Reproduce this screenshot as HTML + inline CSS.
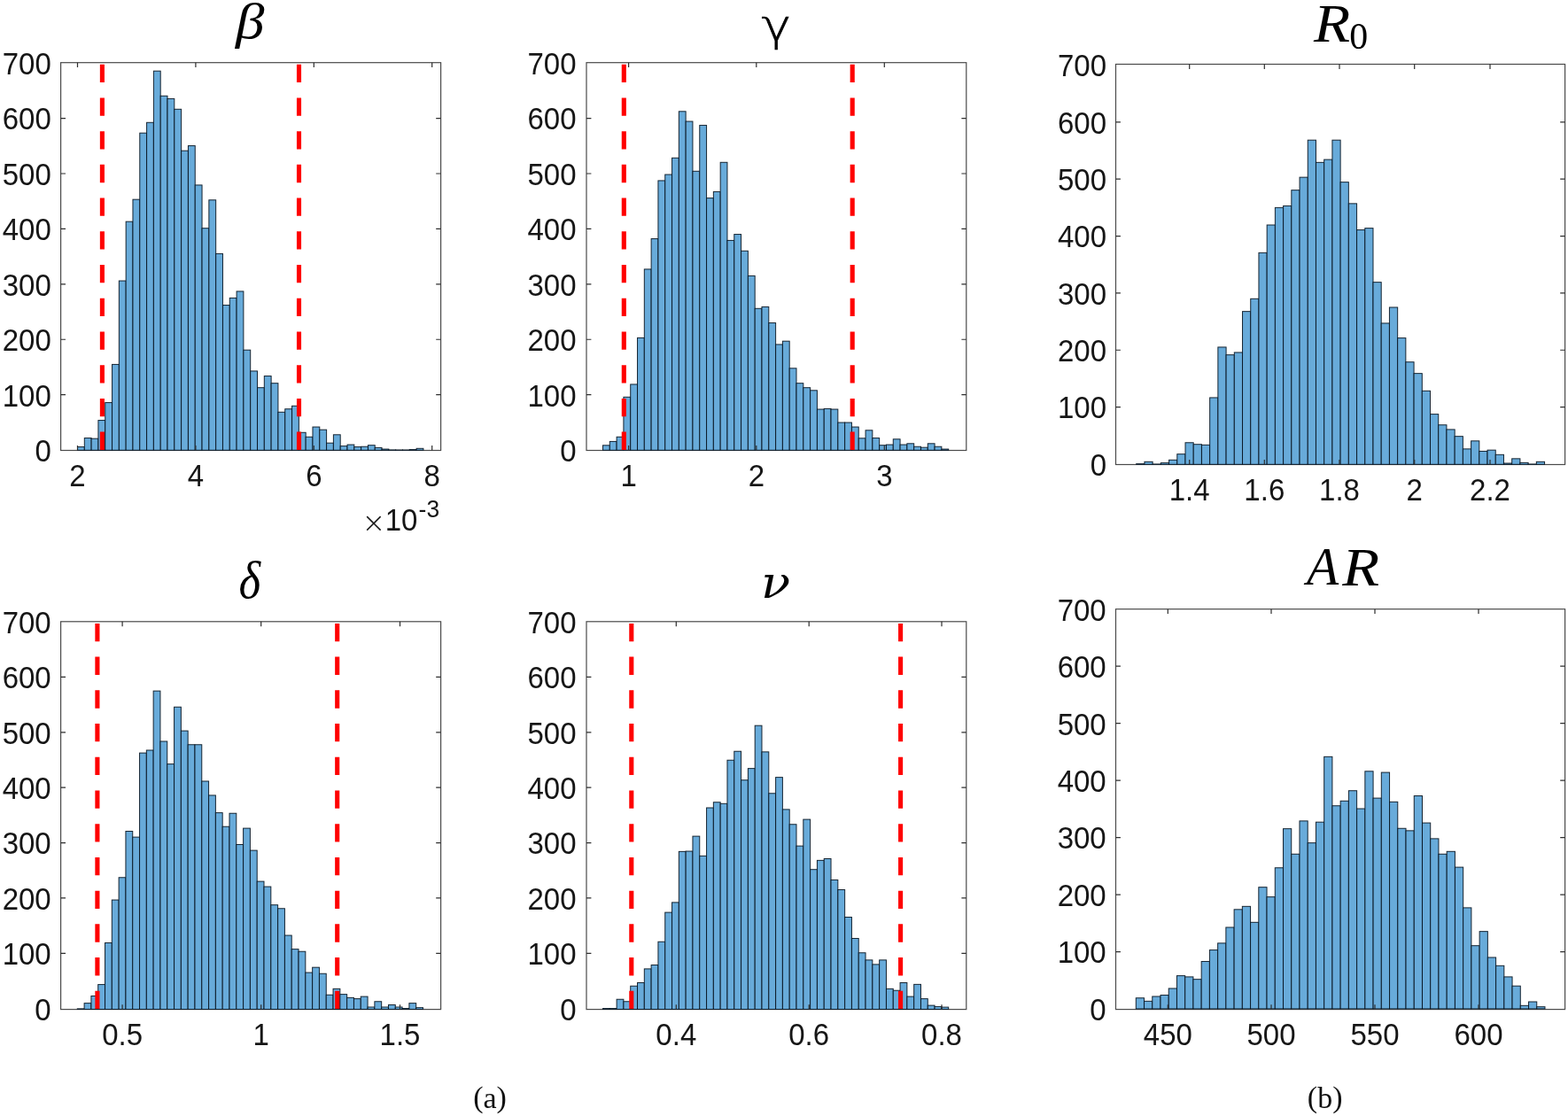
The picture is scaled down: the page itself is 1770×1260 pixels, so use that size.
<!DOCTYPE html>
<html lang="en"><head><meta charset="utf-8"><title>Posterior histograms</title>
<style>
html,body{margin:0;padding:0;background:#fff;}
body{width:1770px;height:1260px;overflow:hidden;}
svg{display:block;}
.tl{font-family:"Liberation Sans",sans-serif;font-size:33px;fill:#161616;}
.cap{font-family:"Liberation Serif",serif;font-size:34px;fill:#111;}
.bar{fill:#68abda;stroke:#06121e;stroke-width:1;stroke-opacity:0.9;}
.ax{fill:none;stroke:#4a4a4a;stroke-width:1.2;}
.tk{stroke:#2e2e2e;stroke-width:1.2;fill:none;}
.red{stroke:#ff0000;stroke-width:5.1;fill:none;}
</style></head><body>
<svg width="1770" height="1260" viewBox="0 0 1770 1260" role="img" aria-label="Posterior histograms of beta, gamma, delta, nu (a) and R0, AR (b)">
<rect x="0" y="0" width="1770" height="1260" fill="#ffffff"/>
<g id="beta">
<rect class="ax" x="68.6" y="70.7" width="429" height="437.8"/>
<rect class="bar" x="87.5" y="504.55" width="7.81" height="3.75"/>
<rect class="bar" x="95.31" y="494.55" width="7.81" height="13.75"/>
<rect class="bar" x="103.12" y="495.18" width="7.81" height="13.12"/>
<rect class="bar" x="110.92" y="474.55" width="7.81" height="33.75"/>
<rect class="bar" x="118.73" y="454.55" width="7.81" height="53.75"/>
<rect class="bar" x="126.54" y="411.43" width="7.81" height="96.88"/>
<rect class="bar" x="134.35" y="317.05" width="7.81" height="191.25"/>
<rect class="bar" x="142.16" y="250.18" width="7.81" height="258.12"/>
<rect class="bar" x="149.96" y="225.18" width="7.81" height="283.12"/>
<rect class="bar" x="157.77" y="150.18" width="7.81" height="358.12"/>
<rect class="bar" x="165.58" y="138.3" width="7.81" height="370"/>
<rect class="bar" x="173.39" y="80.18" width="7.81" height="428.12"/>
<rect class="bar" x="181.2" y="108.3" width="7.81" height="400"/>
<rect class="bar" x="189" y="111.43" width="7.81" height="396.88"/>
<rect class="bar" x="196.81" y="123.3" width="7.81" height="385"/>
<rect class="bar" x="204.62" y="170.18" width="7.81" height="338.12"/>
<rect class="bar" x="212.43" y="164.55" width="7.81" height="343.75"/>
<rect class="bar" x="220.24" y="208.93" width="7.81" height="299.38"/>
<rect class="bar" x="228.04" y="257.68" width="7.81" height="250.62"/>
<rect class="bar" x="235.85" y="225.8" width="7.81" height="282.5"/>
<rect class="bar" x="243.66" y="286.43" width="7.81" height="221.88"/>
<rect class="bar" x="251.47" y="344.55" width="7.81" height="163.75"/>
<rect class="bar" x="259.28" y="336.43" width="7.81" height="171.88"/>
<rect class="bar" x="267.08" y="328.93" width="7.81" height="179.38"/>
<rect class="bar" x="274.89" y="395.18" width="7.81" height="113.12"/>
<rect class="bar" x="282.7" y="418.93" width="7.81" height="89.38"/>
<rect class="bar" x="290.51" y="437.68" width="7.81" height="70.62"/>
<rect class="bar" x="298.32" y="424.55" width="7.81" height="83.75"/>
<rect class="bar" x="306.12" y="432.68" width="7.81" height="75.62"/>
<rect class="bar" x="313.93" y="465.3" width="7.81" height="43"/>
<rect class="bar" x="321.74" y="461.74" width="7.81" height="46.56"/>
<rect class="bar" x="329.55" y="458.3" width="7.81" height="50"/>
<rect class="bar" x="337.36" y="488.3" width="7.81" height="20"/>
<rect class="bar" x="345.16" y="493.3" width="7.81" height="15"/>
<rect class="bar" x="352.97" y="482.05" width="7.81" height="26.25"/>
<rect class="bar" x="360.78" y="485.18" width="7.81" height="23.12"/>
<rect class="bar" x="368.59" y="500.18" width="7.81" height="8.12"/>
<rect class="bar" x="376.4" y="490.8" width="7.81" height="17.5"/>
<rect class="bar" x="384.2" y="503.61" width="7.81" height="4.69"/>
<rect class="bar" x="392.01" y="502.05" width="7.81" height="6.25"/>
<rect class="bar" x="399.82" y="504.55" width="7.81" height="3.75"/>
<rect class="bar" x="407.63" y="504.24" width="7.81" height="4.06"/>
<rect class="bar" x="415.44" y="502.68" width="7.81" height="5.62"/>
<rect class="bar" x="423.24" y="505.43" width="7.81" height="2.88"/>
<rect class="bar" x="431.05" y="507.05" width="7.81" height="1.25"/>
<rect class="bar" x="438.86" y="507.93" width="7.81" height="0.38"/>
<rect class="bar" x="446.67" y="507.99" width="7.81" height="0.31"/>
<rect class="bar" x="454.48" y="507.99" width="7.81" height="0.31"/>
<rect class="bar" x="462.28" y="507.55" width="7.81" height="0.75"/>
<rect class="bar" x="470.09" y="506.3" width="7.81" height="2"/>
<path class="tk" d="M87.5 508.5v-5.4M87.5 70.7v5.4M220.9 508.5v-5.4M220.9 70.7v5.4M354.3 508.5v-5.4M354.3 70.7v5.4M487.7 508.5v-5.4M487.7 70.7v5.4M68.6 445.7h5.4M497.6 445.7h-5.4M68.6 383.27h5.4M497.6 383.27h-5.4M68.6 320.84h5.4M497.6 320.84h-5.4M68.6 258.41h5.4M497.6 258.41h-5.4M68.6 195.98h5.4M497.6 195.98h-5.4M68.6 133.55h5.4M497.6 133.55h-5.4"/>
<path class="red" d="M115.4 507.9V487.6M115.4 470.18V449.88M115.4 432.46V412.16M115.4 394.75V374.45M115.4 357.03V336.73M115.4 319.31V299.01M115.4 281.59V261.29M115.4 243.87V223.57M115.4 206.15V185.85M115.4 168.44V148.14M115.4 130.72V110.42M115.4 93V72.7"/>
<path class="red" d="M337.5 507.9V487.6M337.5 470.18V449.88M337.5 432.46V412.16M337.5 394.75V374.45M337.5 357.03V336.73M337.5 319.31V299.01M337.5 281.59V261.29M337.5 243.87V223.57M337.5 206.15V185.85M337.5 168.44V148.14M337.5 130.72V110.42M337.5 93V72.7"/>
<text class="tl" text-anchor="end" transform="translate(57.8 521.03) scale(1 1.05)">0</text>
<text class="tl" text-anchor="end" transform="translate(57.8 458.6) scale(1 1.05)">100</text>
<text class="tl" text-anchor="end" transform="translate(57.8 396.17) scale(1 1.05)">200</text>
<text class="tl" text-anchor="end" transform="translate(57.8 333.74) scale(1 1.05)">300</text>
<text class="tl" text-anchor="end" transform="translate(57.8 271.31) scale(1 1.05)">400</text>
<text class="tl" text-anchor="end" transform="translate(57.8 208.88) scale(1 1.05)">500</text>
<text class="tl" text-anchor="end" transform="translate(57.8 146.45) scale(1 1.05)">600</text>
<text class="tl" text-anchor="end" transform="translate(57.8 84.02) scale(1 1.05)">700</text>
<text class="tl" text-anchor="middle" transform="translate(87.5 549.2) scale(1 1.05)">2</text>
<text class="tl" text-anchor="middle" transform="translate(220.9 549.2) scale(1 1.05)">4</text>
<text class="tl" text-anchor="middle" transform="translate(354.3 549.2) scale(1 1.05)">6</text>
<text class="tl" text-anchor="middle" transform="translate(487.7 549.2) scale(1 1.05)">8</text>
<text style="font-family:'Liberation Serif',serif;font-style:italic;font-weight:400;font-size:60px" fill="#000" transform="translate(266 42.8) scale(1.0846 0.9455)">β</text>
</g>
<g id="gamma">
<rect class="ax" x="662" y="70.7" width="428.8" height="437.8"/>
<rect class="bar" x="680.5" y="502.8" width="7.8" height="5.5"/>
<rect class="bar" x="688.3" y="498.43" width="7.8" height="9.88"/>
<rect class="bar" x="696.11" y="493.3" width="7.8" height="15"/>
<rect class="bar" x="703.91" y="448.3" width="7.8" height="60"/>
<rect class="bar" x="711.72" y="433.93" width="7.8" height="74.38"/>
<rect class="bar" x="719.52" y="381.43" width="7.8" height="126.88"/>
<rect class="bar" x="727.32" y="303.93" width="7.8" height="204.38"/>
<rect class="bar" x="735.13" y="269.55" width="7.8" height="238.75"/>
<rect class="bar" x="742.93" y="203.93" width="7.8" height="304.38"/>
<rect class="bar" x="750.74" y="197.05" width="7.8" height="311.25"/>
<rect class="bar" x="758.54" y="178.3" width="7.8" height="330"/>
<rect class="bar" x="766.34" y="125.8" width="7.8" height="382.5"/>
<rect class="bar" x="774.15" y="137.05" width="7.8" height="371.25"/>
<rect class="bar" x="781.95" y="193.3" width="7.8" height="315"/>
<rect class="bar" x="789.76" y="141.43" width="7.8" height="366.88"/>
<rect class="bar" x="797.56" y="223.61" width="7.8" height="284.69"/>
<rect class="bar" x="805.36" y="216.43" width="7.8" height="291.88"/>
<rect class="bar" x="813.17" y="183.3" width="7.8" height="325"/>
<rect class="bar" x="820.97" y="271.43" width="7.8" height="236.88"/>
<rect class="bar" x="828.78" y="264.55" width="7.8" height="243.75"/>
<rect class="bar" x="836.58" y="283.3" width="7.8" height="225"/>
<rect class="bar" x="844.38" y="311.43" width="7.8" height="196.88"/>
<rect class="bar" x="852.19" y="348.3" width="7.8" height="160"/>
<rect class="bar" x="859.99" y="346.43" width="7.8" height="161.88"/>
<rect class="bar" x="867.8" y="364.55" width="7.8" height="143.75"/>
<rect class="bar" x="875.6" y="388.93" width="7.8" height="119.38"/>
<rect class="bar" x="883.4" y="385.18" width="7.8" height="123.12"/>
<rect class="bar" x="891.21" y="415.8" width="7.8" height="92.5"/>
<rect class="bar" x="899.01" y="432.68" width="7.8" height="75.62"/>
<rect class="bar" x="906.82" y="437.68" width="7.8" height="70.62"/>
<rect class="bar" x="914.62" y="440.8" width="7.8" height="67.5"/>
<rect class="bar" x="922.42" y="462.05" width="7.8" height="46.25"/>
<rect class="bar" x="930.23" y="461.43" width="7.8" height="46.88"/>
<rect class="bar" x="938.03" y="462.05" width="7.8" height="46.25"/>
<rect class="bar" x="945.84" y="477.05" width="7.8" height="31.25"/>
<rect class="bar" x="953.64" y="477.05" width="7.8" height="31.25"/>
<rect class="bar" x="961.44" y="482.05" width="7.8" height="26.25"/>
<rect class="bar" x="969.25" y="494.8" width="7.8" height="13.5"/>
<rect class="bar" x="977.05" y="485.8" width="7.8" height="22.5"/>
<rect class="bar" x="984.86" y="494.55" width="7.8" height="13.75"/>
<rect class="bar" x="992.66" y="502.68" width="7.8" height="5.62"/>
<rect class="bar" x="1000.46" y="502.05" width="7.8" height="6.25"/>
<rect class="bar" x="1008.27" y="495.8" width="7.8" height="12.5"/>
<rect class="bar" x="1016.07" y="502.05" width="7.8" height="6.25"/>
<rect class="bar" x="1023.88" y="500.8" width="7.8" height="7.5"/>
<rect class="bar" x="1031.68" y="504.24" width="7.8" height="4.06"/>
<rect class="bar" x="1039.48" y="505.18" width="7.8" height="3.12"/>
<rect class="bar" x="1047.29" y="500.8" width="7.8" height="7.5"/>
<rect class="bar" x="1055.09" y="504.24" width="7.8" height="4.06"/>
<rect class="bar" x="1062.9" y="507.05" width="7.8" height="1.25"/>
<path class="tk" d="M709.6 508.5v-5.4M709.6 70.7v5.4M853.8 508.5v-5.4M853.8 70.7v5.4M998.3 508.5v-5.4M998.3 70.7v5.4M662 445.7h5.4M1090.8 445.7h-5.4M662 383.27h5.4M1090.8 383.27h-5.4M662 320.84h5.4M1090.8 320.84h-5.4M662 258.41h5.4M1090.8 258.41h-5.4M662 195.98h5.4M1090.8 195.98h-5.4M662 133.55h5.4M1090.8 133.55h-5.4"/>
<path class="red" d="M704.3 507.9V487.6M704.3 470.18V449.88M704.3 432.46V412.16M704.3 394.75V374.45M704.3 357.03V336.73M704.3 319.31V299.01M704.3 281.59V261.29M704.3 243.87V223.57M704.3 206.15V185.85M704.3 168.44V148.14M704.3 130.72V110.42M704.3 93V72.7"/>
<path class="red" d="M962.2 507.9V487.6M962.2 470.18V449.88M962.2 432.46V412.16M962.2 394.75V374.45M962.2 357.03V336.73M962.2 319.31V299.01M962.2 281.59V261.29M962.2 243.87V223.57M962.2 206.15V185.85M962.2 168.44V148.14M962.2 130.72V110.42M962.2 93V72.7"/>
<text class="tl" text-anchor="end" transform="translate(650.5 521.03) scale(1 1.05)">0</text>
<text class="tl" text-anchor="end" transform="translate(650.5 458.6) scale(1 1.05)">100</text>
<text class="tl" text-anchor="end" transform="translate(650.5 396.17) scale(1 1.05)">200</text>
<text class="tl" text-anchor="end" transform="translate(650.5 333.74) scale(1 1.05)">300</text>
<text class="tl" text-anchor="end" transform="translate(650.5 271.31) scale(1 1.05)">400</text>
<text class="tl" text-anchor="end" transform="translate(650.5 208.88) scale(1 1.05)">500</text>
<text class="tl" text-anchor="end" transform="translate(650.5 146.45) scale(1 1.05)">600</text>
<text class="tl" text-anchor="end" transform="translate(650.5 84.02) scale(1 1.05)">700</text>
<text class="tl" text-anchor="middle" transform="translate(709.6 549.2) scale(1 1.05)">1</text>
<text class="tl" text-anchor="middle" transform="translate(853.8 549.2) scale(1 1.05)">2</text>
<text class="tl" text-anchor="middle" transform="translate(998.3 549.2) scale(1 1.05)">3</text>
<text style="font-family:'DejaVu Sans','Liberation Serif',serif;font-style:normal;font-weight:200;font-size:60px;stroke:#000;stroke-width:0.9px" fill="#000" transform="translate(859.4 45.6) scale(0.9431 0.8249)">γ</text>
</g>
<g id="R0">
<rect class="ax" x="1259.5" y="72.5" width="507.1" height="452"/>
<rect class="bar" x="1282.7" y="523.65" width="9.22" height="0.65"/>
<rect class="bar" x="1291.92" y="521.33" width="9.22" height="2.97"/>
<rect class="bar" x="1301.13" y="523.98" width="9.22" height="0.32"/>
<rect class="bar" x="1310.35" y="522.62" width="9.22" height="1.68"/>
<rect class="bar" x="1319.57" y="519.33" width="9.22" height="4.97"/>
<rect class="bar" x="1328.79" y="512.68" width="9.22" height="11.62"/>
<rect class="bar" x="1338" y="499.76" width="9.22" height="24.54"/>
<rect class="bar" x="1347.22" y="501.7" width="9.22" height="22.6"/>
<rect class="bar" x="1356.44" y="502.35" width="9.22" height="21.95"/>
<rect class="bar" x="1365.65" y="448.95" width="9.22" height="75.35"/>
<rect class="bar" x="1374.87" y="391.93" width="9.22" height="132.37"/>
<rect class="bar" x="1384.09" y="400.65" width="9.22" height="123.65"/>
<rect class="bar" x="1393.3" y="397.93" width="9.22" height="126.37"/>
<rect class="bar" x="1402.52" y="351.64" width="9.22" height="172.66"/>
<rect class="bar" x="1411.74" y="337.3" width="9.22" height="187"/>
<rect class="bar" x="1420.95" y="285.39" width="9.22" height="238.91"/>
<rect class="bar" x="1430.17" y="254" width="9.22" height="270.3"/>
<rect class="bar" x="1439.39" y="234.37" width="9.22" height="289.93"/>
<rect class="bar" x="1448.61" y="232.44" width="9.22" height="291.86"/>
<rect class="bar" x="1457.82" y="214.68" width="9.22" height="309.62"/>
<rect class="bar" x="1467.04" y="200.15" width="9.22" height="324.15"/>
<rect class="bar" x="1476.26" y="158.18" width="9.22" height="366.12"/>
<rect class="bar" x="1485.47" y="183.36" width="9.22" height="340.94"/>
<rect class="bar" x="1494.69" y="180.13" width="9.22" height="344.17"/>
<rect class="bar" x="1503.91" y="158.18" width="9.22" height="366.12"/>
<rect class="bar" x="1513.12" y="205.64" width="9.22" height="318.66"/>
<rect class="bar" x="1522.34" y="229.85" width="9.22" height="294.45"/>
<rect class="bar" x="1531.56" y="259.56" width="9.22" height="264.74"/>
<rect class="bar" x="1540.78" y="257.62" width="9.22" height="266.68"/>
<rect class="bar" x="1549.99" y="318.64" width="9.22" height="205.66"/>
<rect class="bar" x="1559.21" y="364.94" width="9.22" height="159.36"/>
<rect class="bar" x="1568.43" y="346.99" width="9.22" height="177.31"/>
<rect class="bar" x="1577.64" y="381.6" width="9.22" height="142.7"/>
<rect class="bar" x="1586.86" y="408.72" width="9.22" height="115.58"/>
<rect class="bar" x="1596.08" y="421.63" width="9.22" height="102.67"/>
<rect class="bar" x="1605.3" y="441.33" width="9.22" height="82.97"/>
<rect class="bar" x="1614.51" y="467.61" width="9.22" height="56.69"/>
<rect class="bar" x="1623.73" y="479.75" width="9.22" height="44.55"/>
<rect class="bar" x="1632.95" y="484.91" width="9.22" height="39.39"/>
<rect class="bar" x="1642.16" y="492.66" width="9.22" height="31.64"/>
<rect class="bar" x="1651.38" y="506.87" width="9.22" height="17.43"/>
<rect class="bar" x="1660.6" y="497.83" width="9.22" height="26.47"/>
<rect class="bar" x="1669.81" y="509.45" width="9.22" height="14.85"/>
<rect class="bar" x="1679.03" y="508.16" width="9.22" height="16.14"/>
<rect class="bar" x="1688.25" y="513.32" width="9.22" height="10.98"/>
<rect class="bar" x="1697.47" y="523.01" width="9.22" height="1.29"/>
<rect class="bar" x="1706.68" y="517.84" width="9.22" height="6.46"/>
<rect class="bar" x="1715.9" y="522.36" width="9.22" height="1.94"/>
<rect class="bar" x="1725.12" y="523.98" width="9.22" height="0.32"/>
<rect class="bar" x="1734.33" y="521.33" width="9.22" height="2.97"/>
<path class="tk" d="M1342.7 524.5v-5.4M1342.7 72.5v5.4M1427.3 524.5v-5.4M1427.3 72.5v5.4M1512 524.5v-5.4M1512 72.5v5.4M1596.7 524.5v-5.4M1596.7 72.5v5.4M1682 524.5v-5.4M1682 72.5v5.4M1259.5 459.58h5.4M1766.6 459.58h-5.4M1259.5 395.24h5.4M1766.6 395.24h-5.4M1259.5 330.89h5.4M1766.6 330.89h-5.4M1259.5 266.55h5.4M1766.6 266.55h-5.4M1259.5 202.2h5.4M1766.6 202.2h-5.4M1259.5 137.85h5.4M1766.6 137.85h-5.4"/>
<text class="tl" text-anchor="end" transform="translate(1249 536.83) scale(1 1.05)">0</text>
<text class="tl" text-anchor="end" transform="translate(1249 472.48) scale(1 1.05)">100</text>
<text class="tl" text-anchor="end" transform="translate(1249 408.14) scale(1 1.05)">200</text>
<text class="tl" text-anchor="end" transform="translate(1249 343.79) scale(1 1.05)">300</text>
<text class="tl" text-anchor="end" transform="translate(1249 279.45) scale(1 1.05)">400</text>
<text class="tl" text-anchor="end" transform="translate(1249 215.1) scale(1 1.05)">500</text>
<text class="tl" text-anchor="end" transform="translate(1249 150.75) scale(1 1.05)">600</text>
<text class="tl" text-anchor="end" transform="translate(1249 86.41) scale(1 1.05)">700</text>
<text class="tl" text-anchor="middle" transform="translate(1342.7 565.2) scale(1 1.05)">1.4</text>
<text class="tl" text-anchor="middle" transform="translate(1427.3 565.2) scale(1 1.05)">1.6</text>
<text class="tl" text-anchor="middle" transform="translate(1512 565.2) scale(1 1.05)">1.8</text>
<text class="tl" text-anchor="middle" transform="translate(1596.7 565.2) scale(1 1.05)">2</text>
<text class="tl" text-anchor="middle" transform="translate(1682 565.2) scale(1 1.05)">2.2</text>
<text style="font-family:'Liberation Serif',serif;font-style:italic;font-weight:400;font-size:60px" fill="#000" transform="translate(1482.95 46.6) scale(1.1245 1.0331)">R</text>
<text style="font-family:'Liberation Serif',serif;font-style:normal;font-weight:400;font-size:60px" fill="#000" transform="translate(1523.2 54.85) scale(0.6981 0.6970)">0</text>
</g>
<g id="delta">
<rect class="ax" x="68.6" y="701.8" width="429" height="437.8"/>
<rect class="bar" x="87.3" y="1138.88" width="7.8" height="0.62"/>
<rect class="bar" x="95.1" y="1132.62" width="7.8" height="6.88"/>
<rect class="bar" x="102.91" y="1124.5" width="7.8" height="15"/>
<rect class="bar" x="110.71" y="1111.56" width="7.8" height="27.94"/>
<rect class="bar" x="118.52" y="1064.5" width="7.8" height="75"/>
<rect class="bar" x="126.32" y="1016.06" width="7.8" height="123.44"/>
<rect class="bar" x="134.12" y="990.75" width="7.8" height="148.75"/>
<rect class="bar" x="141.93" y="938.5" width="7.8" height="201"/>
<rect class="bar" x="149.73" y="945.12" width="7.8" height="194.38"/>
<rect class="bar" x="157.54" y="850.12" width="7.8" height="289.38"/>
<rect class="bar" x="165.34" y="847" width="7.8" height="292.5"/>
<rect class="bar" x="173.14" y="780.12" width="7.8" height="359.38"/>
<rect class="bar" x="180.95" y="837" width="7.8" height="302.5"/>
<rect class="bar" x="188.75" y="862.62" width="7.8" height="276.88"/>
<rect class="bar" x="196.56" y="798.25" width="7.8" height="341.25"/>
<rect class="bar" x="204.36" y="825.12" width="7.8" height="314.38"/>
<rect class="bar" x="212.16" y="840.75" width="7.8" height="298.75"/>
<rect class="bar" x="219.97" y="840.75" width="7.8" height="298.75"/>
<rect class="bar" x="227.77" y="882" width="7.8" height="257.5"/>
<rect class="bar" x="235.58" y="897.94" width="7.8" height="241.56"/>
<rect class="bar" x="243.38" y="917.62" width="7.8" height="221.88"/>
<rect class="bar" x="251.18" y="933.25" width="7.8" height="206.25"/>
<rect class="bar" x="258.99" y="918.25" width="7.8" height="221.25"/>
<rect class="bar" x="266.79" y="953.5" width="7.8" height="186"/>
<rect class="bar" x="274.6" y="935.12" width="7.8" height="204.38"/>
<rect class="bar" x="282.4" y="960.12" width="7.8" height="179.38"/>
<rect class="bar" x="290.2" y="995.12" width="7.8" height="144.38"/>
<rect class="bar" x="298.01" y="1001.06" width="7.8" height="138.44"/>
<rect class="bar" x="305.81" y="1021.69" width="7.8" height="117.81"/>
<rect class="bar" x="313.62" y="1025.75" width="7.8" height="113.75"/>
<rect class="bar" x="321.42" y="1056.06" width="7.8" height="83.44"/>
<rect class="bar" x="329.22" y="1071.62" width="7.8" height="67.88"/>
<rect class="bar" x="337.03" y="1074.25" width="7.8" height="65.25"/>
<rect class="bar" x="344.83" y="1098.06" width="7.8" height="41.44"/>
<rect class="bar" x="352.64" y="1092.19" width="7.8" height="47.31"/>
<rect class="bar" x="360.44" y="1099.25" width="7.8" height="40.25"/>
<rect class="bar" x="368.24" y="1123.25" width="7.8" height="16.25"/>
<rect class="bar" x="376.05" y="1116.38" width="7.8" height="23.12"/>
<rect class="bar" x="383.85" y="1122.62" width="7.8" height="16.88"/>
<rect class="bar" x="391.66" y="1126.38" width="7.8" height="13.12"/>
<rect class="bar" x="399.46" y="1127.62" width="7.8" height="11.88"/>
<rect class="bar" x="407.26" y="1125.12" width="7.8" height="14.38"/>
<rect class="bar" x="415.07" y="1137" width="7.8" height="2.5"/>
<rect class="bar" x="422.87" y="1130.75" width="7.8" height="8.75"/>
<rect class="bar" x="430.68" y="1137" width="7.8" height="2.5"/>
<rect class="bar" x="438.48" y="1134.5" width="7.8" height="5"/>
<rect class="bar" x="446.28" y="1137" width="7.8" height="2.5"/>
<rect class="bar" x="454.09" y="1138.56" width="7.8" height="0.94"/>
<rect class="bar" x="461.89" y="1132.62" width="7.8" height="6.88"/>
<rect class="bar" x="469.7" y="1137.62" width="7.8" height="1.88"/>
<path class="tk" d="M138.1 1139.6v-5.4M138.1 701.8v5.4M294.7 1139.6v-5.4M294.7 701.8v5.4M451.5 1139.6v-5.4M451.5 701.8v5.4M68.6 1076.35h5.4M497.6 1076.35h-5.4M68.6 1013.96h5.4M497.6 1013.96h-5.4M68.6 951.57h5.4M497.6 951.57h-5.4M68.6 889.18h5.4M497.6 889.18h-5.4M68.6 826.79h5.4M497.6 826.79h-5.4M68.6 764.4h5.4M497.6 764.4h-5.4"/>
<path class="red" d="M109.9 1139.1V1118.8M109.9 1101.38V1081.08M109.9 1063.66V1043.36M109.9 1025.95V1005.65M109.9 988.23V967.93M109.9 950.51V930.21M109.9 912.79V892.49M109.9 875.07V854.77M109.9 837.35V817.05M109.9 799.64V779.34M109.9 761.92V741.62M109.9 724.2V703.9"/>
<path class="red" d="M380.7 1139.1V1118.8M380.7 1101.38V1081.08M380.7 1063.66V1043.36M380.7 1025.95V1005.65M380.7 988.23V967.93M380.7 950.51V930.21M380.7 912.79V892.49M380.7 875.07V854.77M380.7 837.35V817.05M380.7 799.64V779.34M380.7 761.92V741.62M380.7 724.2V703.9"/>
<text class="tl" text-anchor="end" transform="translate(57.7 1151.64) scale(1 1.05)">0</text>
<text class="tl" text-anchor="end" transform="translate(57.7 1089.25) scale(1 1.05)">100</text>
<text class="tl" text-anchor="end" transform="translate(57.7 1026.86) scale(1 1.05)">200</text>
<text class="tl" text-anchor="end" transform="translate(57.7 964.47) scale(1 1.05)">300</text>
<text class="tl" text-anchor="end" transform="translate(57.7 902.08) scale(1 1.05)">400</text>
<text class="tl" text-anchor="end" transform="translate(57.7 839.69) scale(1 1.05)">500</text>
<text class="tl" text-anchor="end" transform="translate(57.7 777.3) scale(1 1.05)">600</text>
<text class="tl" text-anchor="end" transform="translate(57.7 714.91) scale(1 1.05)">700</text>
<text class="tl" text-anchor="middle" transform="translate(138.1 1180.4) scale(1 1.05)">0.5</text>
<text class="tl" text-anchor="middle" transform="translate(294.7 1180.4) scale(1 1.05)">1</text>
<text class="tl" text-anchor="middle" transform="translate(451.5 1180.4) scale(1 1.05)">1.5</text>
<text style="font-family:'Liberation Serif',serif;font-style:italic;font-weight:400;font-size:60px" fill="#000" transform="translate(269.5 675.4) scale(0.8815 1.0024)">δ</text>
</g>
<g id="nu">
<rect class="ax" x="662" y="701.8" width="428.8" height="437.8"/>
<rect class="bar" x="680.5" y="1138.56" width="7.8" height="0.94"/>
<rect class="bar" x="688.3" y="1138.56" width="7.8" height="0.94"/>
<rect class="bar" x="696.11" y="1128.25" width="7.8" height="11.25"/>
<rect class="bar" x="703.91" y="1130.75" width="7.8" height="8.75"/>
<rect class="bar" x="711.72" y="1113.25" width="7.8" height="26.25"/>
<rect class="bar" x="719.52" y="1109.5" width="7.8" height="30"/>
<rect class="bar" x="727.32" y="1093.88" width="7.8" height="45.62"/>
<rect class="bar" x="735.13" y="1089.5" width="7.8" height="50"/>
<rect class="bar" x="742.93" y="1063.25" width="7.8" height="76.25"/>
<rect class="bar" x="750.74" y="1030.12" width="7.8" height="109.38"/>
<rect class="bar" x="758.54" y="1018.88" width="7.8" height="120.62"/>
<rect class="bar" x="766.34" y="961.38" width="7.8" height="178.12"/>
<rect class="bar" x="774.15" y="961.06" width="7.8" height="178.44"/>
<rect class="bar" x="781.95" y="944.12" width="7.8" height="195.38"/>
<rect class="bar" x="789.76" y="966.38" width="7.8" height="173.12"/>
<rect class="bar" x="797.56" y="912" width="7.8" height="227.5"/>
<rect class="bar" x="805.36" y="905.75" width="7.8" height="233.75"/>
<rect class="bar" x="813.17" y="907.31" width="7.8" height="232.19"/>
<rect class="bar" x="820.97" y="858.25" width="7.8" height="281.25"/>
<rect class="bar" x="828.78" y="848.25" width="7.8" height="291.25"/>
<rect class="bar" x="836.58" y="880.75" width="7.8" height="258.75"/>
<rect class="bar" x="844.38" y="867.62" width="7.8" height="271.88"/>
<rect class="bar" x="852.19" y="819.19" width="7.8" height="320.31"/>
<rect class="bar" x="859.99" y="848.88" width="7.8" height="290.62"/>
<rect class="bar" x="867.8" y="895.75" width="7.8" height="243.75"/>
<rect class="bar" x="875.6" y="877.62" width="7.8" height="261.88"/>
<rect class="bar" x="883.4" y="913.88" width="7.8" height="225.62"/>
<rect class="bar" x="891.21" y="930.75" width="7.8" height="208.75"/>
<rect class="bar" x="899.01" y="955.12" width="7.8" height="184.38"/>
<rect class="bar" x="906.82" y="925.12" width="7.8" height="214.38"/>
<rect class="bar" x="914.62" y="981.69" width="7.8" height="157.81"/>
<rect class="bar" x="922.42" y="971.38" width="7.8" height="168.12"/>
<rect class="bar" x="930.23" y="969.5" width="7.8" height="170"/>
<rect class="bar" x="938.03" y="993.44" width="7.8" height="146.06"/>
<rect class="bar" x="945.84" y="1004.5" width="7.8" height="135"/>
<rect class="bar" x="953.64" y="1035.5" width="7.8" height="104"/>
<rect class="bar" x="961.44" y="1059.5" width="7.8" height="80"/>
<rect class="bar" x="969.25" y="1075.75" width="7.8" height="63.75"/>
<rect class="bar" x="977.05" y="1083.88" width="7.8" height="55.62"/>
<rect class="bar" x="984.86" y="1088.88" width="7.8" height="50.62"/>
<rect class="bar" x="992.66" y="1083.88" width="7.8" height="55.62"/>
<rect class="bar" x="1000.46" y="1116.38" width="7.8" height="23.12"/>
<rect class="bar" x="1008.27" y="1118.25" width="7.8" height="21.25"/>
<rect class="bar" x="1016.07" y="1109.5" width="7.8" height="30"/>
<rect class="bar" x="1023.88" y="1125.12" width="7.8" height="14.38"/>
<rect class="bar" x="1031.68" y="1111.38" width="7.8" height="28.12"/>
<rect class="bar" x="1039.48" y="1127.62" width="7.8" height="11.88"/>
<rect class="bar" x="1047.29" y="1135.12" width="7.8" height="4.38"/>
<rect class="bar" x="1055.09" y="1136.56" width="7.8" height="2.94"/>
<rect class="bar" x="1062.9" y="1137.12" width="7.8" height="2.38"/>
<path class="tk" d="M763.3 1139.6v-5.4M763.3 701.8v5.4M913.2 1139.6v-5.4M913.2 701.8v5.4M1063 1139.6v-5.4M1063 701.8v5.4M662 1076.35h5.4M1090.8 1076.35h-5.4M662 1013.96h5.4M1090.8 1013.96h-5.4M662 951.57h5.4M1090.8 951.57h-5.4M662 889.18h5.4M1090.8 889.18h-5.4M662 826.79h5.4M1090.8 826.79h-5.4M662 764.4h5.4M1090.8 764.4h-5.4"/>
<path class="red" d="M712.8 1139.1V1118.8M712.8 1101.38V1081.08M712.8 1063.66V1043.36M712.8 1025.95V1005.65M712.8 988.23V967.93M712.8 950.51V930.21M712.8 912.79V892.49M712.8 875.07V854.77M712.8 837.35V817.05M712.8 799.64V779.34M712.8 761.92V741.62M712.8 724.2V703.9"/>
<path class="red" d="M1016.6 1139.1V1118.8M1016.6 1101.38V1081.08M1016.6 1063.66V1043.36M1016.6 1025.95V1005.65M1016.6 988.23V967.93M1016.6 950.51V930.21M1016.6 912.79V892.49M1016.6 875.07V854.77M1016.6 837.35V817.05M1016.6 799.64V779.34M1016.6 761.92V741.62M1016.6 724.2V703.9"/>
<text class="tl" text-anchor="end" transform="translate(650.5 1151.64) scale(1 1.05)">0</text>
<text class="tl" text-anchor="end" transform="translate(650.5 1089.25) scale(1 1.05)">100</text>
<text class="tl" text-anchor="end" transform="translate(650.5 1026.86) scale(1 1.05)">200</text>
<text class="tl" text-anchor="end" transform="translate(650.5 964.47) scale(1 1.05)">300</text>
<text class="tl" text-anchor="end" transform="translate(650.5 902.08) scale(1 1.05)">400</text>
<text class="tl" text-anchor="end" transform="translate(650.5 839.69) scale(1 1.05)">500</text>
<text class="tl" text-anchor="end" transform="translate(650.5 777.3) scale(1 1.05)">600</text>
<text class="tl" text-anchor="end" transform="translate(650.5 714.91) scale(1 1.05)">700</text>
<text class="tl" text-anchor="middle" transform="translate(763.3 1180.4) scale(1 1.05)">0.4</text>
<text class="tl" text-anchor="middle" transform="translate(913.2 1180.4) scale(1 1.05)">0.6</text>
<text class="tl" text-anchor="middle" transform="translate(1063 1180.4) scale(1 1.05)">0.8</text>
<text style="font-family:'DejaVu Serif','Liberation Serif',serif;font-style:italic;font-weight:400;font-size:60px" fill="#000" transform="translate(859 674.65) scale(0.9091 0.8242)">ν</text>
</g>
<g id="AR">
<rect class="ax" x="1259.5" y="687.7" width="507.1" height="451.9"/>
<rect class="bar" x="1282.3" y="1126.75" width="9.23" height="12.25"/>
<rect class="bar" x="1291.53" y="1130.36" width="9.23" height="8.64"/>
<rect class="bar" x="1300.77" y="1125.01" width="9.23" height="13.99"/>
<rect class="bar" x="1310" y="1123.53" width="9.23" height="15.47"/>
<rect class="bar" x="1319.24" y="1115.98" width="9.23" height="23.02"/>
<rect class="bar" x="1328.47" y="1101.61" width="9.23" height="37.39"/>
<rect class="bar" x="1337.7" y="1102.9" width="9.23" height="36.1"/>
<rect class="bar" x="1346.94" y="1105.67" width="9.23" height="33.33"/>
<rect class="bar" x="1356.17" y="1085.49" width="9.23" height="53.51"/>
<rect class="bar" x="1365.41" y="1072.59" width="9.23" height="66.41"/>
<rect class="bar" x="1374.64" y="1064.86" width="9.23" height="74.14"/>
<rect class="bar" x="1383.87" y="1047" width="9.23" height="92"/>
<rect class="bar" x="1393.11" y="1026.82" width="9.23" height="112.18"/>
<rect class="bar" x="1402.34" y="1023.34" width="9.23" height="115.66"/>
<rect class="bar" x="1411.58" y="1041.33" width="9.23" height="97.67"/>
<rect class="bar" x="1420.81" y="1001.68" width="9.23" height="137.32"/>
<rect class="bar" x="1430.04" y="1012.64" width="9.23" height="126.36"/>
<rect class="bar" x="1439.28" y="979.76" width="9.23" height="159.24"/>
<rect class="bar" x="1448.51" y="935.66" width="9.23" height="203.34"/>
<rect class="bar" x="1457.75" y="964.28" width="9.23" height="174.72"/>
<rect class="bar" x="1466.98" y="926.89" width="9.23" height="212.11"/>
<rect class="bar" x="1476.21" y="951.65" width="9.23" height="187.35"/>
<rect class="bar" x="1485.45" y="928.18" width="9.23" height="210.82"/>
<rect class="bar" x="1494.68" y="854.36" width="9.23" height="284.64"/>
<rect class="bar" x="1503.92" y="909.74" width="9.23" height="229.26"/>
<rect class="bar" x="1513.15" y="904.32" width="9.23" height="234.68"/>
<rect class="bar" x="1522.38" y="892.72" width="9.23" height="246.28"/>
<rect class="bar" x="1531.62" y="913.03" width="9.23" height="225.97"/>
<rect class="bar" x="1540.85" y="870.8" width="9.23" height="268.2"/>
<rect class="bar" x="1550.09" y="901.1" width="9.23" height="237.9"/>
<rect class="bar" x="1559.32" y="872.09" width="9.23" height="266.91"/>
<rect class="bar" x="1568.55" y="905.36" width="9.23" height="233.64"/>
<rect class="bar" x="1577.79" y="935.27" width="9.23" height="203.73"/>
<rect class="bar" x="1587.02" y="937.85" width="9.23" height="201.15"/>
<rect class="bar" x="1596.26" y="898.52" width="9.23" height="240.48"/>
<rect class="bar" x="1605.49" y="929.08" width="9.23" height="209.92"/>
<rect class="bar" x="1614.72" y="946.88" width="9.23" height="192.12"/>
<rect class="bar" x="1623.96" y="964.28" width="9.23" height="174.72"/>
<rect class="bar" x="1633.19" y="961.32" width="9.23" height="177.68"/>
<rect class="bar" x="1642.43" y="979.11" width="9.23" height="159.89"/>
<rect class="bar" x="1651.66" y="1024.89" width="9.23" height="114.11"/>
<rect class="bar" x="1660.89" y="1067.69" width="9.23" height="71.31"/>
<rect class="bar" x="1670.13" y="1051.64" width="9.23" height="87.36"/>
<rect class="bar" x="1679.36" y="1080.98" width="9.23" height="58.02"/>
<rect class="bar" x="1688.6" y="1090.32" width="9.23" height="48.68"/>
<rect class="bar" x="1697.83" y="1102.9" width="9.23" height="36.1"/>
<rect class="bar" x="1707.06" y="1113.21" width="9.23" height="25.79"/>
<rect class="bar" x="1716.3" y="1135.33" width="9.23" height="3.67"/>
<rect class="bar" x="1725.53" y="1131.01" width="9.23" height="7.99"/>
<rect class="bar" x="1734.77" y="1136.68" width="9.23" height="2.32"/>
<path class="tk" d="M1318.3 1139.6v-5.4M1318.3 687.7v5.4M1435 1139.6v-5.4M1435 687.7v5.4M1552 1139.6v-5.4M1552 687.7v5.4M1669 1139.6v-5.4M1669 687.7v5.4M1259.5 1074.53h5.4M1766.6 1074.53h-5.4M1259.5 1010.06h5.4M1766.6 1010.06h-5.4M1259.5 945.59h5.4M1766.6 945.59h-5.4M1259.5 881.12h5.4M1766.6 881.12h-5.4M1259.5 816.64h5.4M1766.6 816.64h-5.4M1259.5 752.17h5.4M1766.6 752.17h-5.4"/>
<text class="tl" text-anchor="end" transform="translate(1248.7 1151.9) scale(1 1.05)">0</text>
<text class="tl" text-anchor="end" transform="translate(1248.7 1087.43) scale(1 1.05)">100</text>
<text class="tl" text-anchor="end" transform="translate(1248.7 1022.96) scale(1 1.05)">200</text>
<text class="tl" text-anchor="end" transform="translate(1248.7 958.49) scale(1 1.05)">300</text>
<text class="tl" text-anchor="end" transform="translate(1248.7 894.02) scale(1 1.05)">400</text>
<text class="tl" text-anchor="end" transform="translate(1248.7 829.54) scale(1 1.05)">500</text>
<text class="tl" text-anchor="end" transform="translate(1248.7 765.07) scale(1 1.05)">600</text>
<text class="tl" text-anchor="end" transform="translate(1248.7 700.6) scale(1 1.05)">700</text>
<text class="tl" text-anchor="middle" transform="translate(1318.3 1179.9) scale(1 1.05)">450</text>
<text class="tl" text-anchor="middle" transform="translate(1435 1179.9) scale(1 1.05)">500</text>
<text class="tl" text-anchor="middle" transform="translate(1552 1179.9) scale(1 1.05)">550</text>
<text class="tl" text-anchor="middle" transform="translate(1669 1179.9) scale(1 1.05)">600</text>
<text style="font-family:'Liberation Serif',serif;font-style:italic;font-weight:400;font-size:60px" fill="#000" transform="translate(1475.05 660.1) scale(0.9875 1.0342)">A</text>
<text style="font-family:'Liberation Serif',serif;font-style:italic;font-weight:400;font-size:60px" fill="#000" transform="translate(1515.15 661.35) scale(1.1441 1.0242)">R</text>
</g>
<text style="font-family:'DejaVu Sans','Liberation Sans',sans-serif;font-weight:200;font-size:32px" fill="#161616" text-anchor="middle" x="422" y="601.1">×</text>
<text class="tl" transform="translate(434.7 599.2) scale(1 1.05)">10</text>
<text class="tl" style="font-size:26.4px" transform="translate(472.6 583.5) scale(1 1.05)">-3</text>
<text class="cap" text-anchor="middle" x="553" y="1249.6">(<tspan dy="1.7">a</tspan><tspan dy="-1.7">)</tspan></text>
<text class="cap" text-anchor="middle" x="1495.7" y="1249.6">(<tspan dy="1.7">b</tspan><tspan dy="-1.7">)</tspan></text>
</svg></body></html>
